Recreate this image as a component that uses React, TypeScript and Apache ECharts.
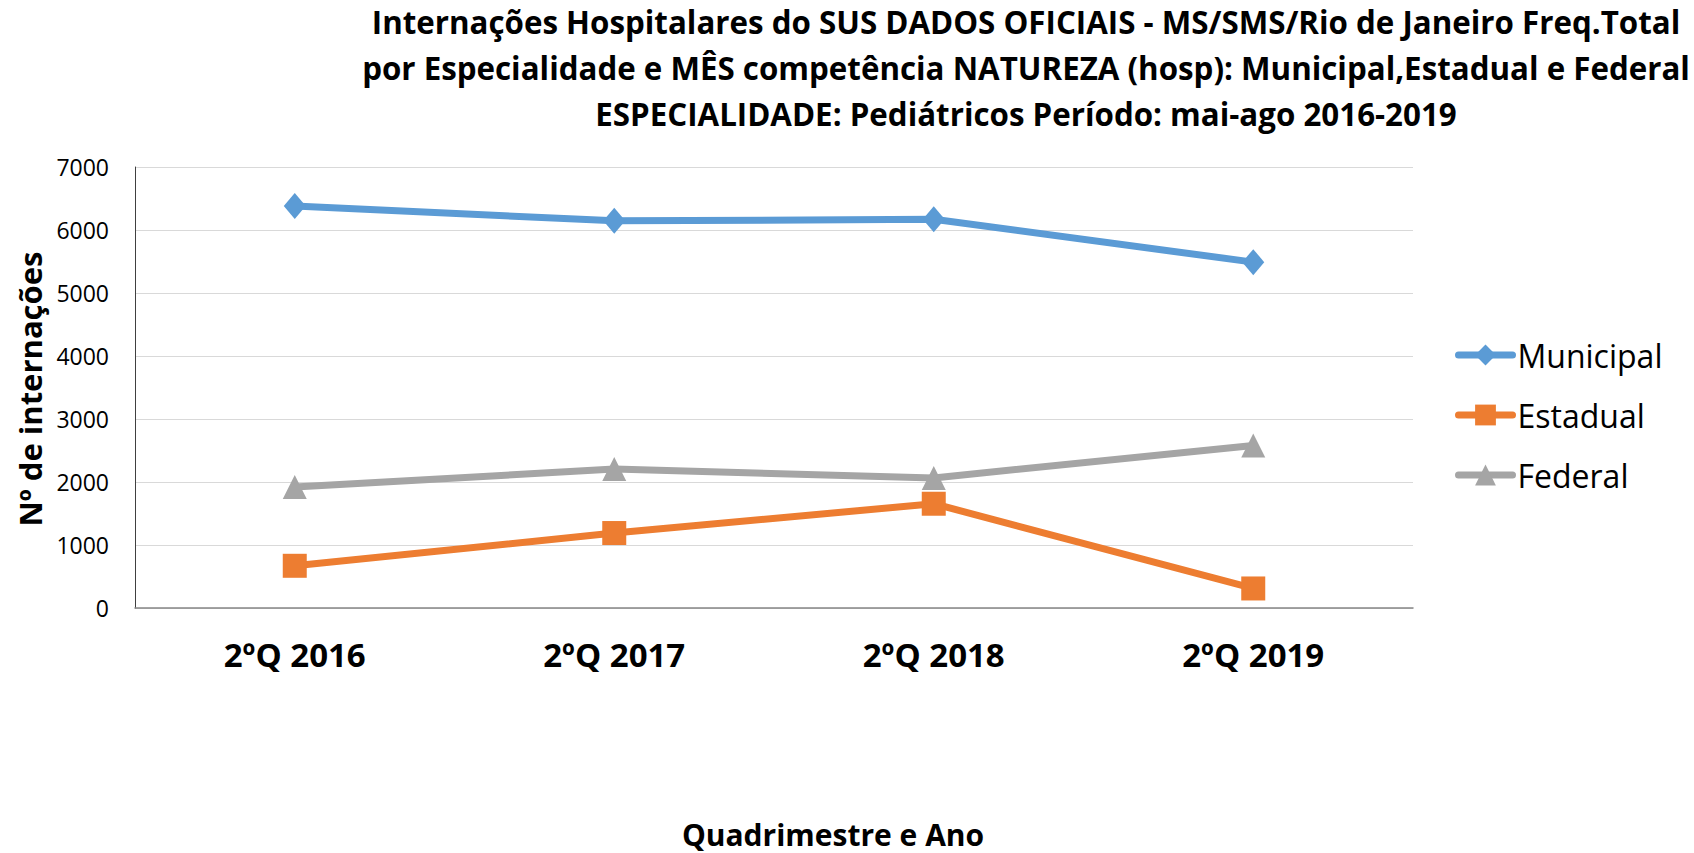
import React, { useEffect, useRef } from "react";
import * as echarts from "echarts";

const categories = ["2ºQ 2016", "2ºQ 2017", "2ºQ 2018", "2ºQ 2019"];
const municipal = [6380, 6145, 6170, 5490];
const estadual = [670, 1190, 1655, 310];
const federal = [1920, 2205, 2065, 2580];
const titleLines = [
  "Internações Hospitalares do SUS DADOS OFICIAIS - MS/SMS/Rio de Janeiro Freq.Total",
  "por Especialidade e MÊS competência NATUREZA (hosp): Municipal,Estadual e Federal",
  "ESPECIALIDADE: Pediátricos Período: mai-ago 2016-2019",
];
const yAxisTitle = "Nº de internações";
const xAxisTitle = "Quadrimestre e Ano";

const FONT = "'Open Sans', sans-serif";

export default function App() {
  const ref = useRef<HTMLDivElement>(null);
  useEffect(() => {
    document.body.style.margin = "0";
    const chart = echarts.init(ref.current!, null, { renderer: "svg" });
    const mk = (name: string, data: number[], color: string, symbol: string, size: any) => ({
      name,
      type: "line",
      data,
      symbol,
      symbolSize: size,
      lineStyle: { color, width: 7 },
      itemStyle: { color },
      z: 3,
    });
    chart.setOption({
      animation: false,
      backgroundColor: "#fff",
      textStyle: { fontFamily: FONT },
      graphic: [
        ...titleLines.map((t, i) => ({
          type: "text",
          x: 1026,
          y: 22 + i * 46,
          style: {
            text: t,
            fontFamily: FONT,
            fontSize: 31.3,
            fontWeight: "bold",
            fill: "#000",
            textAlign: "center",
            textVerticalAlign: "middle",
          },
        })),
        {
          type: "text",
          x: 30,
          y: 389,
          rotation: Math.PI / 2,
          style: {
            text: yAxisTitle,
            fontFamily: FONT,
            fontSize: 31,
            fontWeight: "bold",
            fill: "#000",
            textAlign: "center",
            textVerticalAlign: "middle",
          },
        },
        {
          type: "text",
          x: 833,
          y: 834,
          style: {
            text: xAxisTitle,
            fontFamily: FONT,
            fontSize: 30,
            fontWeight: "bold",
            fill: "#000",
            textAlign: "center",
            textVerticalAlign: "middle",
          },
        },
      ],
      legend: {
        orient: "vertical",
        left: 1450,
        top: 334,
        itemGap: 28,
        itemWidth: 54,
        itemHeight: 26,
        lineStyle: { width: 7, cap: "round" },
        textStyle: { fontFamily: FONT, fontSize: 32, color: "#000", padding: [0, 0, 0, 0] },
        data: ["Municipal", "Estadual", "Federal"],
      },
      grid: { left: 135, right: 281, top: 167, bottom: 245 },
      xAxis: {
        type: "category",
        data: categories,
        boundaryGap: true,
        axisLine: { lineStyle: { color: "#868686", width: 1.5 } },
        axisTick: { show: false },
        axisLabel: {
          fontFamily: FONT,
          fontSize: 33,
          fontWeight: "bold",
          color: "#000",
          margin: 30,
        },
        splitLine: { show: false },
      },
      yAxis: {
        type: "value",
        min: 0,
        max: 7000,
        interval: 1000,
        axisLine: { show: true, lineStyle: { color: "#404040", width: 1 } },
        axisTick: { show: false },
        axisLabel: {
          fontFamily: FONT,
          fontSize: 23,
          color: "#000",
          margin: 26,
          formatter: (v: number) => String(v),
        },
        splitLine: { lineStyle: { color: "#D9D9D9", width: 1 } },
      },
      series: [
        mk("Municipal", municipal, "#5B9BD5", "diamond", [22, 26]),
        mk("Estadual", estadual, "#ED7D31", "rect", 24),
        mk("Federal", federal, "#A5A5A5", "triangle", 24),
      ],
    });
    return () => chart.dispose();
  }, []);
  return <div ref={ref} style={{ width: 1694, height: 853 }} />;
}
